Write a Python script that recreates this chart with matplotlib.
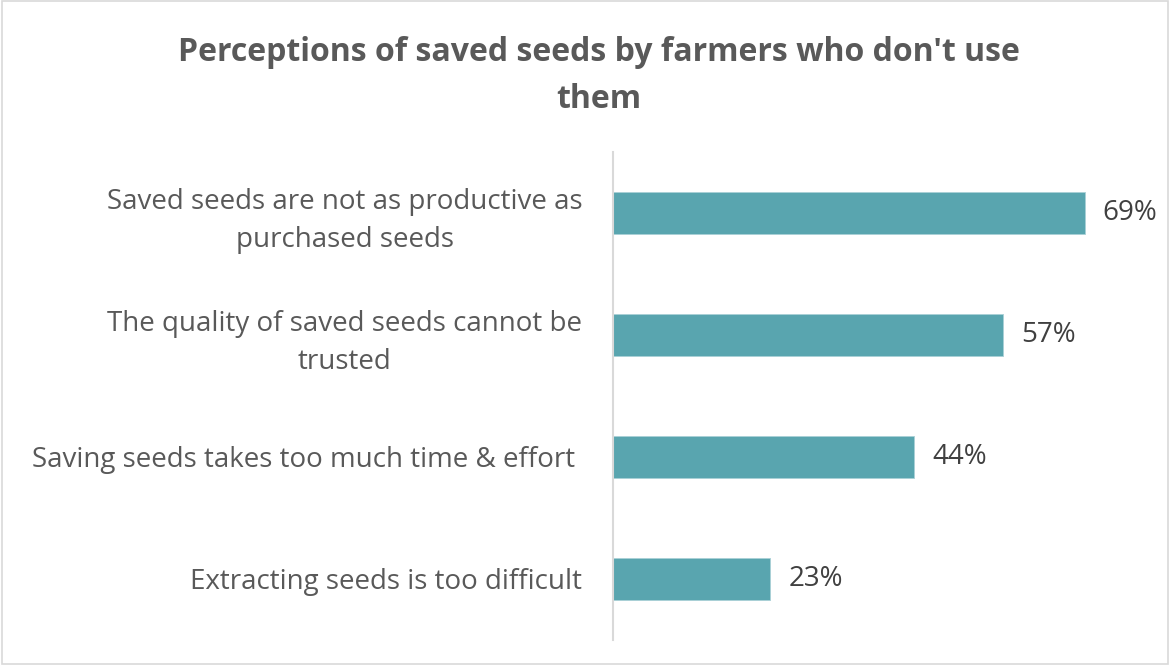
import matplotlib
matplotlib.use("Agg")
import matplotlib.pyplot as plt
from matplotlib.patches import Rectangle

categories = [
    "Saved seeds are not as productive as\npurchased seeds",
    "The quality of saved seeds cannot be\ntrusted",
    "Saving seeds takes too much time & effort ",
    "Extracting seeds is too difficult",
]
values = [0.69, 0.57, 0.44, 0.23]
value_labels = ["69%", "57%", "44%", "23%"]
title = "Perceptions of saved seeds by farmers who don't use\nthem"

plt.rcParams['font.family'] = ['Open Sans', 'DejaVu Sans']

W, H = 1170, 665
fig = plt.figure(figsize=(W / 100, H / 100), dpi=100)
ax = fig.add_axes([613 / W, (H - 640) / H, 547 / W, 488 / H])

ypos = list(range(len(categories)))
ax.barh(ypos, values, height=0.35, color="#59A5AF", edgecolor="#A9D0D6", linewidth=0.6)
ax.set_ylim(len(categories) - 0.5, -0.5)
ax.set_xlim(0, 0.80)

for y, v, lab in zip(ypos, values, value_labels):
    ax.annotate(lab, (v, y), xytext=(13, 0), textcoords="offset points",
                va="center", ha="left", fontsize=20, color="#404040")

ax.set_yticks(ypos)
ax.set_yticklabels(categories, fontsize=20, color="#595959", ha="right",
                   multialignment="center", linespacing=1.45)
ax.tick_params(axis="y", length=0, pad=22)
ax.set_xticks([])
for s in ["top", "right", "bottom"]:
    ax.spines[s].set_visible(False)
ax.spines["left"].set_color("#D9D9D9")
ax.spines["left"].set_linewidth(1.5)

fig.text(599 / W, 1 - 76 / H, title, ha="center", va="center", fontsize=23,
         fontweight="bold", color="#595959", linespacing=1.55)

fig.patches.append(Rectangle((0.002, 0.002), 0.996, 0.996, transform=fig.transFigure,
                             fill=False, edgecolor="#D9D9D9", linewidth=1.2))

fig.savefig("out.png", dpi=100)
